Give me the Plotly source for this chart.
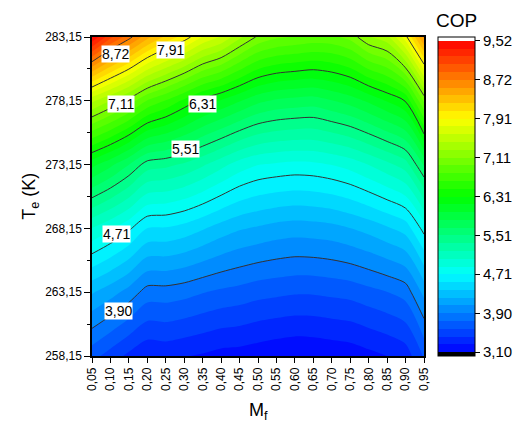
import plotly.graph_objects as go

# Refrigerant mass fraction (x) and evaporator temperature (y)
mf = [0.05, 0.10, 0.15, 0.20, 0.25, 0.30, 0.35, 0.40, 0.45, 0.50,
      0.55, 0.60, 0.65, 0.70, 0.75, 0.80, 0.85, 0.90, 0.95]
te = [258.15, 263.15, 268.15, 273.15, 278.15, 283.15]

# COP along Mf, one list per evaporator temperature
cop_258 = [3.64, 3.51, 3.38, 3.28, 3.30, 3.27, 3.24, 3.20, 3.19, 3.16,
           3.13, 3.11, 3.12, 3.14, 3.16, 3.21, 3.26, 3.33, 3.60]
cop_263 = [4.24, 4.13, 4.00, 3.83, 3.83, 3.80, 3.75, 3.71, 3.68, 3.64,
           3.62, 3.60, 3.60, 3.62, 3.64, 3.69, 3.74, 3.81, 4.11]
cop_268 = [5.02, 4.89, 4.74, 4.54, 4.53, 4.48, 4.40, 4.31, 4.24, 4.20,
           4.16, 4.14, 4.15, 4.17, 4.22, 4.28, 4.36, 4.45, 4.77]
cop_273 = [6.04, 5.87, 5.67, 5.43, 5.39, 5.32, 5.21, 5.08, 4.95, 4.87,
           4.84, 4.82, 4.83, 4.87, 4.93, 5.03, 5.14, 5.27, 5.69]
cop_278 = [7.47, 7.27, 7.05, 6.78, 6.62, 6.43, 6.25, 6.13, 6.00, 5.87,
           5.80, 5.77, 5.75, 5.82, 5.90, 6.02, 6.16, 6.32, 6.98]
cop_283 = [9.51, 9.08, 8.78, 8.45, 8.20, 8.00, 7.74, 7.58, 7.31, 7.08,
           6.98, 6.94, 6.90, 6.91, 7.01, 7.26, 7.38, 7.85, 8.60]

# Colour-scale tick values (also the labelled contour levels)
cop_levels = [3.10, 3.90, 4.71, 5.51, 6.31, 7.11, 7.91, 8.72, 9.52]
n_bands = 40

# Contour labels: (Mf, Te) anchor of each label
label_levels = [8.72, 7.91, 7.11, 6.31, 5.51, 4.71, 3.90]
label_mf = [0.114, 0.264, 0.129, 0.350, 0.304, 0.117, 0.121]
label_te = [281.80, 282.11, 277.92, 277.92, 274.36, 267.71, 261.69]

z = [cop_258, cop_263, cop_268, cop_273, cop_278, cop_283]

zmin, zmax = cop_levels[0], cop_levels[-1]
step = (zmax - zmin) / n_bands

# Rainbow (blue-cyan-green-yellow-red) with black below / white above range
n_lev = n_bands + 1
lo = 0.5 / n_lev
hi = (n_lev - 0.5) / n_lev
rainbow = ["rgb(0,0,255)", "rgb(0,255,255)", "rgb(0,255,0)",
           "rgb(255,255,0)", "rgb(255,0,0)"]
colorscale = [[0.0, "black"], [lo - 1e-6, "black"]]
for i, c in enumerate(rainbow):
    colorscale.append([lo + (hi - lo) * i / (len(rainbow) - 1), c])
colorscale += [[hi + 1e-6, "white"], [1.0, "white"]]

FONT = "Arial, Liberation Sans, sans-serif"
SMOOTH = 0.8

# Pixel geometry of the plotting area
L, R, T, B = 92, 426, 37, 356
W, H = R - L, B - T


def px_x(p):
    return (p - L) / W


def px_y(p):
    return (B - p) / H


fig = go.Figure()

fig.add_trace(go.Contour(
    x=mf, y=te, z=z,
    autocontour=False,
    contours=dict(start=zmin, end=zmax, size=step,
                  coloring="fill", showlines=False),
    line=dict(width=0, smoothing=SMOOTH),
    colorscale=colorscale,
    colorbar=dict(
        x=px_x(440), xanchor="left", xpad=0,
        y=0.5, yanchor="middle", ypad=0,
        len=1, lenmode="fraction", thickness=37,
        outlinewidth=1, outlinecolor="black",
        tickmode="array", tickvals=cop_levels,
        ticktext=[f"{v:.2f}".replace(".", ",") for v in cop_levels],
        ticks="outside", ticklen=5, tickwidth=1, tickcolor="black",
        tickfont=dict(family=FONT, size=15, color="black"),
    ),
    hoverinfo="skip",
))

# Labelled iso-COP lines
for lev in label_levels:
    fig.add_trace(go.Contour(
        x=mf, y=te, z=z,
        autocontour=False,
        contours=dict(start=lev, end=lev, size=1, coloring="none"),
        line=dict(color="#333333", width=1, smoothing=SMOOTH),
        showscale=False, hoverinfo="skip",
    ))

for lev, lx, ly in zip(label_levels, label_mf, label_te):
    fig.add_annotation(
        x=lx, y=ly, xref="x", yref="y",
        xanchor="center", yanchor="middle",
        text=f"{lev:.2f}".replace(".", ","),
        showarrow=False, bgcolor="white", borderpad=0,
        font=dict(family=FONT, size=14, color="black"),
    )

# Titles
fig.add_annotation(x=px_x(459), y=px_y(20), xref="paper", yref="paper",
                   xanchor="center", yanchor="middle",
                   text="COP", showarrow=False,
                   font=dict(family=FONT, size=19, color="black"))
fig.add_annotation(x=px_x(30), y=0.5, xref="paper", yref="paper",
                   xanchor="center", yanchor="middle",
                   text="T<sub>e</sub> (K)", textangle=-90, showarrow=False,
                   font=dict(family=FONT, size=18, color="black"))
fig.add_annotation(x=0.5, y=px_y(411), xref="paper", yref="paper",
                   xanchor="center", yanchor="middle",
                   text="M<sub>f</sub>", showarrow=False,
                   font=dict(family=FONT, size=18, color="black"))

fig.update_xaxes(
    range=[mf[0], mf[-1]], tickmode="array", tickvals=mf,
    ticktext=[f"{v:.2f}".replace(".", ",") for v in mf],
    tickangle=-90, ticks="outside", ticklen=5, tickwidth=1, tickcolor="black",
    tickfont=dict(family=FONT, size=12, color="black"),
    showline=True, linecolor="black", linewidth=1.5, mirror=True,
    showgrid=False, zeroline=False,
)
fig.update_yaxes(
    range=[te[0], te[-1]], tickmode="array", tickvals=te,
    ticktext=[f"{v:.2f}".replace(".", ",") for v in te],
    ticks="outside", ticklen=6, tickwidth=1, tickcolor="black",
    tickfont=dict(family=FONT, size=12, color="black"),
    minor=dict(tickmode="linear", tick0=te[0], dtick=2.5, ticks="outside",
               ticklen=3, tickwidth=1, tickcolor="black"),
    showline=True, linecolor="black", linewidth=1.5, mirror=True,
    showgrid=False, zeroline=False,
)

fig.update_layout(
    width=525, height=422,
    margin=dict(l=L, r=525 - R, t=T, b=422 - B),
    paper_bgcolor="white", plot_bgcolor="white",
    showlegend=False,
    font=dict(family=FONT, color="black"),
)

fig.write_html("out.html")
